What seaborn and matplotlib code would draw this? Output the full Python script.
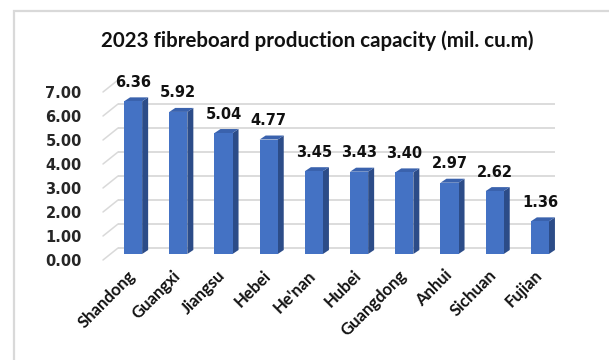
import matplotlib
matplotlib.use("Agg")
import matplotlib.pyplot as plt
from matplotlib.patches import Polygon, Rectangle
from matplotlib.transforms import ScaledTranslation, IdentityTransform
from matplotlib.lines import Line2D
import seaborn as sns
import pandas as pd
import numpy as np

provinces = ["Shandong", "Guangxi", "Jiangsu", "Hebei", "He'nan",
             "Hubei", "Guangdong", "Anhui", "Sichuan", "Fujian"]
capacity = [6.36, 5.92, 5.04, 4.77, 3.45, 3.43, 3.40, 2.97, 2.62, 1.36]
y_ticks = [0, 1, 2, 3, 4, 5, 6, 7]
title = "2023 fibreboard production capacity (mil. cu.m)"

FRONT = "#4472C4"
SIDE = "#2C4C88"
TOP = "#3A62AD"
GRID = "#d9d9d9"

sns.set_style("white")
plt.rcParams["font.family"] = ["DejaVu Sans"]

DPI = 100
fig = plt.figure(figsize=(6.09, 3.60), dpi=DPI)
fig.patch.set_facecolor("white")

# chart frame (runs off the right and bottom edges)
fig.patches.append(Rectangle((13.5 / 609, -0.1), 1.2, (360 - 11) / 360 + 0.1,
                             transform=fig.transFigure, fill=False,
                             edgecolor=GRID, linewidth=1.6))

# front plane of the 3D box
ax = fig.add_axes([103 / 609, (360 - 260) / 360, 452 / 609, 168 / 360])
df = pd.DataFrame({"province": provinces, "capacity": capacity})
sns.barplot(data=df, x="province", y="capacity", color=FRONT, saturation=1,
            width=0.4, edgecolor="none", linewidth=0, ax=ax, zorder=3)

ax.set_xlim(-0.5, len(provinces) - 0.5)
ax.set_ylim(0, 7)
ax.set_yticks(y_ticks)
ax.set_yticklabels([f"{v:.2f}" for v in y_ticks])
ax.set_xlabel("")
ax.set_ylabel("")
for s in ax.spines.values():
    s.set_visible(False)
ax.patch.set_alpha(0)
ax.tick_params(axis="y", length=0, pad=15.3, labelsize=10.5)
for lbl in ax.get_yticklabels():
    lbl.set_fontweight("bold")
ax.set_xticks(range(len(provinces)))
ax.set_xticklabels([])
ax.tick_params(axis="x", length=0)

# depth offsets in pixels
wall_dx, wall_dy = 15, 12      # back wall
bar_dx, bar_dy = 7.5, 6        # bar front faces sit mid-depth
side_dx, side_dy = 6, 4        # bar thickness

px = lambda v: v / DPI
wall_off = ScaledTranslation(px(wall_dx), px(wall_dy), fig.dpi_scale_trans)
bar_off = ScaledTranslation(px(bar_dx), px(bar_dy), fig.dpi_scale_trans)

# back wall gridlines and the left wall edges
ax.hlines(y_ticks, -0.5, len(provinces) - 0.5, colors=GRID, linewidth=1.3,
          transform=ax.transData + wall_off, zorder=1)
for v in y_ticks:
    x0, y0 = ax.transData.transform((-0.5, v))
    ax.add_line(Line2D([x0, x0 + wall_dx], [y0, y0 + wall_dy], color=GRID,
                       linewidth=1.1, transform=IdentityTransform(),
                       clip_on=False, zorder=1))

# 3D bars: shift front faces, then add side and top faces
for p in ax.patches:
    p.set_transform(ax.transData + bar_off)
    x, w, h = p.get_x(), p.get_width(), p.get_height()
    xl, yb = ax.transData.transform((x, 0))
    xr, yt = ax.transData.transform((x + w, h))
    xl += bar_dx; xr += bar_dx; yb += bar_dy; yt += bar_dy
    side = Polygon([(xr, yb), (xr, yt), (xr + side_dx, yt + side_dy),
                    (xr + side_dx, yb + side_dy)], closed=True,
                   facecolor=SIDE, edgecolor="none",
                   transform=IdentityTransform(), clip_on=False, zorder=2.9)
    top = Polygon([(xl, yt), (xr, yt), (xr + side_dx, yt + side_dy),
                   (xl + side_dx, yt + side_dy)], closed=True,
                  facecolor=TOP, edgecolor="none",
                  transform=IdentityTransform(), clip_on=False, zorder=2.9)
    ax.add_patch(side)
    ax.add_patch(top)

# value labels
for i, v in enumerate(capacity):
    ax.annotate(f"{v:.2f}", xy=(i, v),
                xytext=(bar_dx * 0.72, (bar_dy + 19) * 0.72),
                textcoords="offset points", ha="center", va="center",
                fontsize=10.5, fontweight="bold", color="#111111",
                annotation_clip=False, zorder=5)

# category labels
cat_off = ScaledTranslation(px(7), px(-13), fig.dpi_scale_trans)
for i, name in enumerate(provinces):
    ax.text(i, 0, name, rotation=45, ha="right", va="center",
            rotation_mode="anchor", fontsize=12, fontweight="bold",
            family=["Lato", "DejaVu Sans"], color="#111111",
            transform=ax.transData + cat_off)

fig.text(317 / 609, 1 - 41 / 360, title, ha="center", va="center",
         fontsize=14.8, fontweight="bold", family=["Lato", "DejaVu Sans"],
         color="#111111")

fig.savefig("out.png", dpi=DPI, facecolor="white")
